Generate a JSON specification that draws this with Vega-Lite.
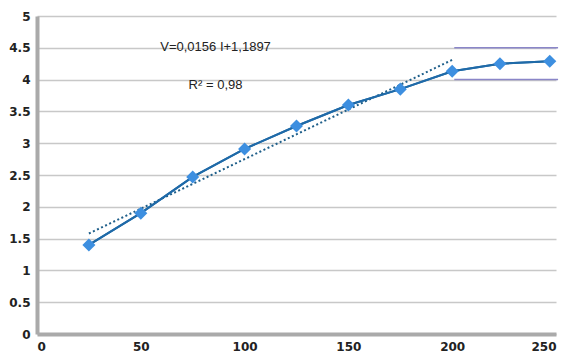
{
  "$schema": "https://vega.github.io/schema/vega-lite/v6.json",
  "width": 519,
  "height": 318,
  "autosize": "none",
  "padding": {"left": 37, "top": 16, "right": 13, "bottom": 24},
  "background": "white",
  "config": {
    "view": {"stroke": null},
    "axis": {"labelFont": "DejaVu Sans", "labelFontSize": 12, "labelFontWeight": "bold", "labelColor": "#222222", "labelOverlap": false}
  },
  "datasets": {
    "pts": [
      {"I": 25, "V": 1.40},
      {"I": 50, "V": 1.90},
      {"I": 75, "V": 2.47},
      {"I": 100, "V": 2.91},
      {"I": 125, "V": 3.27},
      {"I": 150, "V": 3.60},
      {"I": 175, "V": 3.85},
      {"I": 200, "V": 4.13},
      {"I": 223, "V": 4.25},
      {"I": 247, "V": 4.29}
    ],
    "trend": [
      {"I": 25, "V": 1.58},
      {"I": 200, "V": 4.31}
    ],
    "purple": [
      {"x1": 201, "x2": 251, "y": 4.5},
      {"x1": 201, "x2": 251, "y": 4}
    ],
    "notes": [
      {"x": 86, "y": 4.52, "t": "V=0,0156  I+1,1897"},
      {"x": 86, "y": 3.92, "t": "R² = 0,98"}
    ]
  },
  "layer": [
    {
      "data": {"name": "pts"},
      "mark": {"type": "line", "color": "#1f6aa8", "strokeWidth": 2},
      "encoding": {
        "x": {"field": "I", "type": "quantitative", "scale": {"domain": [0, 250], "nice": false},
          "axis": {"tickCount": 5, "labelExpr": "'' + datum.value", "grid": false, "domainColor": "#aaaaaa", "domainWidth": 4, "tickColor": "#aaaaaa", "tickSize": 0, "labelPadding": 7, "title": null}},
        "y": {"field": "V", "type": "quantitative", "scale": {"domain": [0, 5], "nice": false},
          "axis": {"tickCount": 10, "labelExpr": "'' + datum.value", "grid": true, "gridColor": "#c8c8c8", "gridWidth": 1.5, "domainColor": "#aaaaaa", "domainWidth": 4, "tickSize": 0, "labelPadding": 7, "title": null}}
      }
    },
    {
      "data": {"name": "purple"},
      "mark": {"type": "rule", "color": "#8a86c8", "strokeWidth": 1.5},
      "encoding": {
        "x": {"field": "x1", "type": "quantitative"},
        "x2": {"field": "x2"},
        "y": {"field": "y", "type": "quantitative"}
      }
    },
    {
      "data": {"name": "trend"},
      "mark": {"type": "line", "color": "#1f5f8a", "strokeWidth": 2, "strokeDash": [2, 2.5]},
      "encoding": {
        "x": {"field": "I", "type": "quantitative"},
        "y": {"field": "V", "type": "quantitative"}
      }
    },
    {
      "data": {"name": "pts"},
      "mark": {"type": "line", "color": "#1f6aa8", "strokeWidth": 2},
      "encoding": {
        "x": {"field": "I", "type": "quantitative"},
        "y": {"field": "V", "type": "quantitative"}
      }
    },
    {
      "data": {"name": "pts"},
      "mark": {"type": "point", "shape": "diamond", "filled": true, "color": "#3d8fe0", "opacity": 1, "size": 170},
      "encoding": {
        "x": {"field": "I", "type": "quantitative"},
        "y": {"field": "V", "type": "quantitative"}
      }
    },
    {
      "data": {"name": "notes"},
      "mark": {"type": "text", "font": "Liberation Sans", "fontSize": 13, "color": "#222222", "baseline": "middle", "align": "center"},
      "encoding": {
        "x": {"field": "x", "type": "quantitative"},
        "y": {"field": "y", "type": "quantitative"},
        "text": {"field": "t"}
      }
    }
  ]
}
